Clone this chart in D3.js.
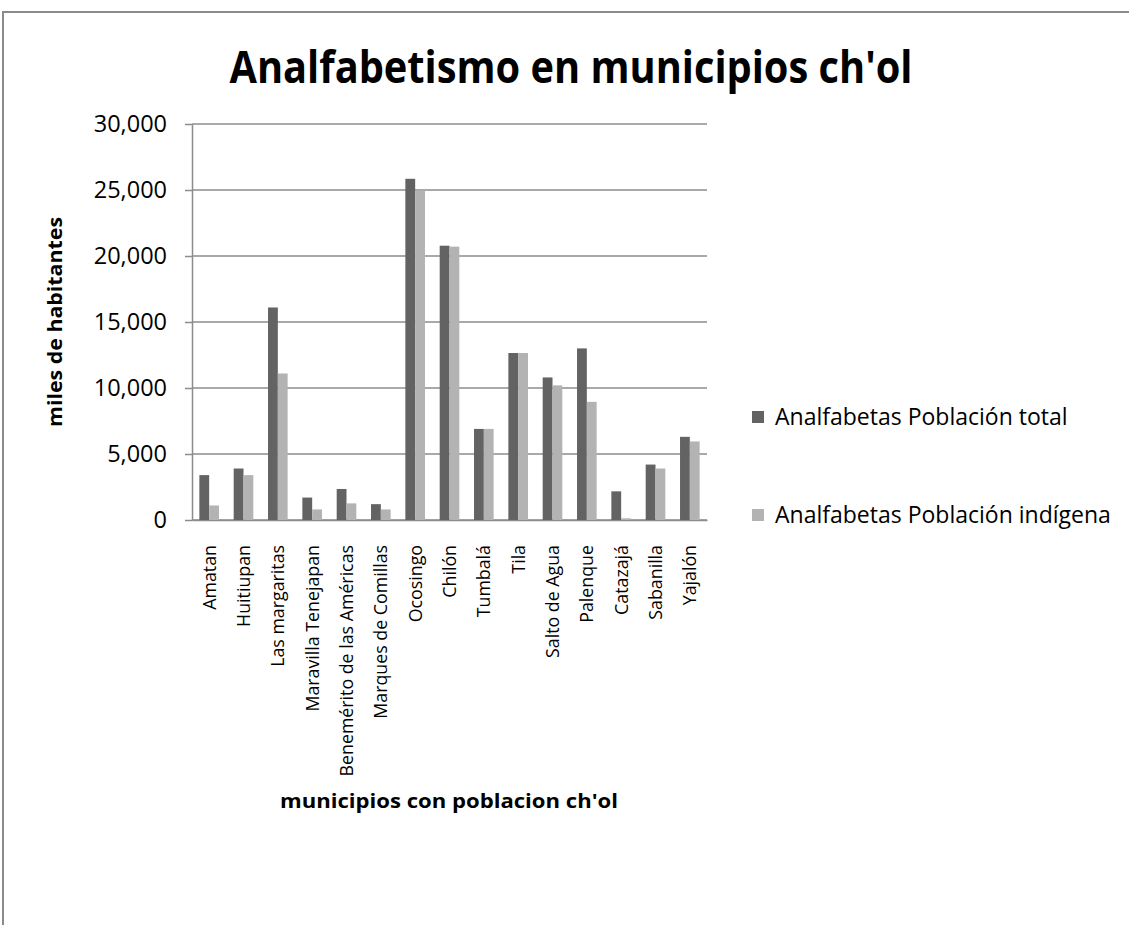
<!DOCTYPE html>
<html>
<head>
<meta charset="utf-8">
<script src="https://cdn.jsdelivr.net/npm/d3@7"></script>
<style>
  body { margin: 0; background: #fff; }
  svg { display: block; }
  text { font-family: "Open Sans", "DejaVu Sans", sans-serif; fill: #000; }
</style>
</head>
<body>
<script>
'use strict';

// municipios (categorias del eje x)
const municipios = ["Amatan", "Huitiupan", "Las margaritas", "Maravilla Tenejapan",
  "Benemérito de las Américas", "Marques de Comillas", "Ocosingo", "Chilón",
  "Tumbalá", "Tila", "Salto de Agua", "Palenque", "Catazajá", "Sabanilla", "Yajalón"];

// nombres de las series
const series = ["Analfabetas Población total", "Analfabetas Población indígena"];

// valores
const poblacionTotal = [3400, 3900, 16100, 1700, 2350, 1200, 25850, 20780,
  6900, 12650, 10800, 13000, 2170, 4200, 6300];
const poblacionIndigena = [1100, 3400, 11100, 800, 1260, 800, 24950, 20710,
  6900, 12650, 10200, 8950, 130, 3900, 5950];

// ticks del eje y
const yTicks = [0, 5000, 10000, 15000, 20000, 25000, 30000];

(function() {

  let svgContainer = "";
  let colors = ["#636363", "#b3b3b3"];

  window.onload = function() {
    svgContainer = d3.select('body')
      .append('svg')
      .attr('width', 1129)
      .attr('height', 925);

    drawBorder();
    let map = drawAxes();
    plotData(map);
    makeLegend();
    makeLabels();
  }

  // marco gris del area de la grafica
  function drawBorder() {
    svgContainer.append('path')
      .attr('d', 'M3,925 V12 H1129')
      .attr('fill', 'none')
      .attr('stroke', '#8a8a8a')
      .attr('stroke-width', 2);
  }

  // ejes y lineas de la cuadricula
  function drawAxes() {
    let xScale = d3.scaleBand()
      .domain(municipios)
      .range([192, 707])
      .padding(0);

    // posicion de cada serie dentro de la categoria (ancho de intervalo 150%)
    let subScale = d3.scaleBand()
      .domain(series)
      .range([0, xScale.bandwidth()])
      .paddingInner(0)
      .paddingOuter(0.75);

    let yScale = d3.scaleLinear()
      .domain([0, 30000])
      .range([520, 124]);

    // lineas horizontales
    svgContainer.append('g')
      .selectAll('line')
      .data(yTicks)
      .enter()
      .append('line')
        .attr('x1', 192)
        .attr('x2', 707)
        .attr('y1', (d) => yScale(d))
        .attr('y2', (d) => yScale(d))
        .attr('stroke', '#8c8c8c')
        .attr('stroke-width', 1.5);

    // eje y
    let yAxis = d3.axisLeft(yScale)
      .tickValues(yTicks)
      .tickFormat(d3.format(','))
      .tickSizeInner(7)
      .tickSizeOuter(0)
      .tickPadding(18);
    let yg = svgContainer.append('g')
      .attr('transform', 'translate(192, 0)')
      .call(yAxis);
    yg.select('.domain').attr('stroke', '#8c8c8c').attr('stroke-width', 1.5);
    yg.selectAll('.tick line').attr('stroke', '#8c8c8c').attr('stroke-width', 1.5);
    yg.selectAll('.tick text')
      .style('font-family', '"Open Sans", sans-serif')
      .style('font-size', '23.5px')
      .attr('fill', '#000');

    // eje x
    let xAxis = d3.axisBottom(xScale)
      .tickSize(0)
      .tickSizeOuter(0)
      .tickFormat('');
    let xg = svgContainer.append('g')
      .attr('transform', 'translate(0, 520)')
      .call(xAxis);
    xg.select('.domain').attr('stroke', '#8c8c8c').attr('stroke-width', 1.5);

    // etiquetas verticales de los municipios
    svgContainer.append('g')
      .selectAll('text')
      .data(municipios)
      .enter()
      .append('text')
        .attr('transform', (d) => 'translate(' + (xScale(d) + xScale.bandwidth() / 2) + ', 545)rotate(-90)')
        .attr('dy', '0.36em')
        .attr('text-anchor', 'end')
        .style('font-size', '17.8px')
        .text((d) => d);

    return { x: xScale, sub: subScale, y: yScale };
  }

  // barras agrupadas
  function plotData(map) {
    let rows = municipios.map((m, i) => ({
      municipio: m,
      values: [
        { serie: series[0], value: poblacionTotal[i] },
        { serie: series[1], value: poblacionIndigena[i] }
      ]
    }));

    let groups = svgContainer.append('g')
      .selectAll('g')
      .data(rows)
      .enter()
      .append('g')
        .attr('transform', (d) => 'translate(' + map.x(d.municipio) + ', 0)');

    groups.selectAll('rect')
      .data((d) => d.values)
      .enter()
      .append('rect')
        .attr('x', (d) => map.sub(d.serie))
        .attr('y', (d) => map.y(d.value))
        .attr('width', map.sub.bandwidth())
        .attr('height', (d) => map.y(0) - map.y(d.value))
        .attr('fill', (d, i) => colors[i]);
  }

  // leyenda a la derecha
  function makeLegend() {
    let legend = svgContainer.append('g');
    let rowY = [417, 515];

    legend.selectAll('rect')
      .data(series)
      .enter()
      .append('rect')
        .attr('x', 752)
        .attr('y', (d, i) => rowY[i] - 6)
        .attr('width', 12)
        .attr('height', 12)
        .attr('fill', (d, i) => colors[i]);

    legend.selectAll('text')
      .data(series)
      .enter()
      .append('text')
        .attr('x', 775)
        .attr('y', (d, i) => rowY[i])
        .attr('dy', '0.36em')
        .style('font-size', '23px')
        .text((d) => d);
  }

  // titulo y titulos de los ejes
  function makeLabels() {
    svgContainer.append('text')
      .attr('x', 571)
      .attr('y', 83)
      .attr('text-anchor', 'middle')
      .attr('textLength', 683)
      .attr('lengthAdjust', 'spacingAndGlyphs')
      .style('font-size', '45px')
      .style('font-weight', 'bold')
      .text("Analfabetismo en municipios ch'ol");

    svgContainer.append('text')
      .attr('transform', 'translate(62, 322)rotate(-90)')
      .attr('text-anchor', 'middle')
      .attr('textLength', 210)
      .attr('lengthAdjust', 'spacingAndGlyphs')
      .style('font-size', '20px')
      .style('font-weight', 'bold')
      .text('miles de habitantes');

    svgContainer.append('text')
      .attr('x', 449)
      .attr('y', 808)
      .attr('text-anchor', 'middle')
      .attr('textLength', 338)
      .attr('lengthAdjust', 'spacingAndGlyphs')
      .style('font-size', '20px')
      .style('font-weight', 'bold')
      .text("municipios con poblacion ch'ol");
  }

})();
</script>
</body>
</html>
